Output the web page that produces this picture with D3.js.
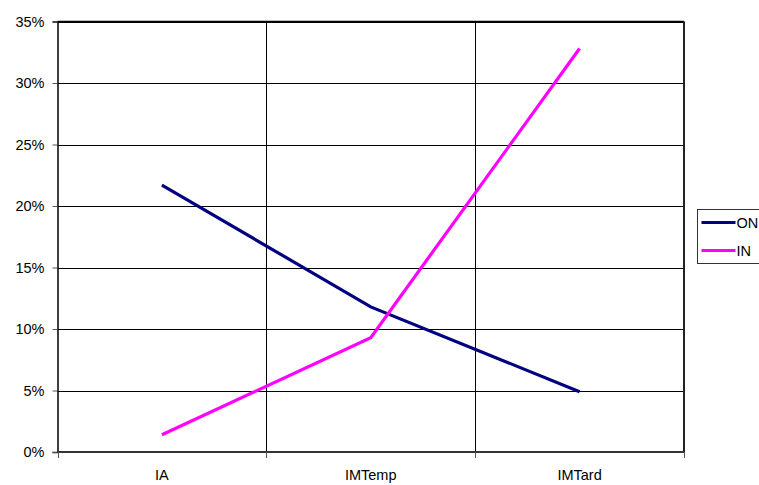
<!DOCTYPE html>
<html>
<head>
<meta charset="utf-8">
<script src="https://cdn.jsdelivr.net/npm/d3@7"></script>
<style>
  body { margin: 0; background: #fff; }
  svg { display: block; font-family: "Liberation Sans", Arial, sans-serif; }
</style>
</head>
<body>
<svg id="chart" width="759" height="485"></svg>
<script>
// Categories and series values (percent)
const categories = ["IA", "IMTemp", "IMTard"];
const seriesON = [21.7, 11.8, 4.9];
const seriesIN = [1.4, 9.3, 32.8];
const yTicks = [0, 5, 10, 15, 20, 25, 30, 35];
const seriesNames = ["ON", "IN"];
const seriesColors = ["#000080", "#FF00FF"];

const svg = d3.select("#chart");
const plot = { left: 57.5, right: 684, top: 21.5, bottom: 452 };
const fontSize = 14.5;

const x = d3.scaleBand().domain(categories).range([plot.left, plot.right]).padding(0);
const y = d3.scaleLinear().domain([0, 35]).range([plot.bottom, plot.top]);

// Horizontal gridlines
svg.append("g")
  .selectAll("line")
  .data(yTicks.filter(d => d > 0))
  .join("line")
  .attr("x1", plot.left).attr("x2", plot.right)
  .attr("y1", d => Math.round(y(d)) + 0.5).attr("y2", d => Math.round(y(d)) + 0.5)
  .attr("stroke", "#000").attr("stroke-width", 1);

// Vertical category separators
svg.append("g")
  .selectAll("line")
  .data(categories.slice(1))
  .join("line")
  .attr("x1", d => Math.round(x(d)) + 0.5).attr("x2", d => Math.round(x(d)) + 0.5)
  .attr("y1", plot.top).attr("y2", plot.bottom)
  .attr("stroke", "#000").attr("stroke-width", 1);

// Top and right border
svg.append("line")
  .attr("x1", plot.left).attr("x2", plot.right)
  .attr("y1", plot.top).attr("y2", plot.top)
  .attr("stroke", "#000").attr("stroke-width", 1.5);
svg.append("line")
  .attr("x1", plot.right).attr("x2", plot.right)
  .attr("y1", plot.top).attr("y2", plot.bottom)
  .attr("stroke", "#222").attr("stroke-width", 2);

// Y axis
const yAxis = d3.axisLeft(y)
  .tickValues(yTicks)
  .tickFormat(d => d + "%")
  .tickSize(5)
  .tickPadding(8);
const gy = svg.append("g").attr("transform", `translate(${plot.left},0)`).call(yAxis);
gy.select(".domain").attr("stroke", "#000").attr("stroke-width", 1.5);
gy.selectAll(".tick line").attr("stroke", "#555");
gy.selectAll("text").attr("font-size", fontSize).attr("fill", "#000")
  .attr("font-family", "'Liberation Sans', Arial, sans-serif");

// X axis (ticks at category boundaries)
const gx = svg.append("g").attr("transform", `translate(0,${plot.bottom})`);
gx.append("line")
  .attr("x1", plot.left).attr("x2", plot.right)
  .attr("y1", 0).attr("y2", 0)
  .attr("stroke", "#333").attr("stroke-width", 2);
const boundaries = categories.map(c => x(c)).concat([x(categories[categories.length - 1]) + x.bandwidth()]);
gx.selectAll("line.tick")
  .data(boundaries)
  .join("line")
  .attr("class", "tick")
  .attr("x1", d => Math.round(d) + 0.5).attr("x2", d => Math.round(d) + 0.5)
  .attr("y1", 0).attr("y2", 6)
  .attr("stroke", "#555");
gx.selectAll("text")
  .data(categories)
  .join("text")
  .attr("x", d => x(d) + x.bandwidth() / 2)
  .attr("y", 28)
  .attr("text-anchor", "middle")
  .attr("font-size", fontSize)
  .attr("fill", "#000")
  .text(d => d);

// Series lines
const line = d3.line()
  .x((d, i) => x(categories[i]) + x.bandwidth() / 2)
  .y(d => y(d));
[seriesON, seriesIN].forEach((vals, k) => {
  svg.append("path")
    .datum(vals)
    .attr("d", line)
    .attr("fill", "none")
    .attr("stroke", seriesColors[k])
    .attr("stroke-width", 3.2)
    .attr("stroke-linejoin", "miter");
});

// Legend
const legend = svg.append("g").attr("transform", "translate(697.5,209.5)");
legend.append("rect")
  .attr("width", 90).attr("height", 54)
  .attr("fill", "#fff").attr("stroke", "#333").attr("stroke-width", 1);
seriesNames.forEach((name, k) => {
  const yy = 13 + k * 28;
  legend.append("line")
    .attr("x1", 4).attr("x2", 38)
    .attr("y1", yy).attr("y2", yy)
    .attr("stroke", seriesColors[k]).attr("stroke-width", 3.2);
  legend.append("text")
    .attr("x", 39).attr("y", yy + 5)
    .attr("font-size", fontSize).attr("fill", "#000")
    .text(name);
});
</script>
</body>
</html>
